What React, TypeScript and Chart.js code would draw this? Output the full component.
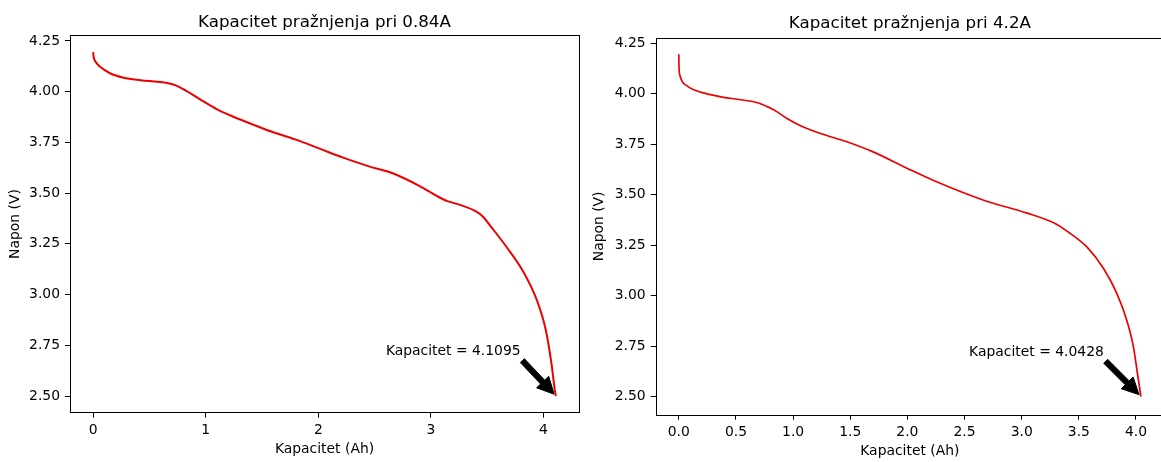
import React, { useEffect, useRef } from 'react';
import { Chart, registerables } from 'chart.js';

Chart.register(...registerables);

const FONT = '"DejaVu Sans", "Liberation Sans", sans-serif';
const TICK_SIZE = 13.9;
const TITLE_SIZE = 16.7;

// ---- Left chart: 0.84 A discharge ----
const title084 = 'Kapacitet pražnjenja pri 0.84A';
const capacity084 = [
  0.0, 0.005, 0.025, 0.062, 0.15, 0.27, 0.42, 0.57, 0.66, 0.74, 0.82, 0.95, 1.1, 1.24, 1.42, 1.6,
  1.8, 2.0, 2.22, 2.45, 2.66, 2.9, 3.05, 3.14, 3.26, 3.4, 3.46, 3.54, 3.67, 3.82, 3.94, 4.02,
  4.07, 4.1, 4.1095,
];
const voltage084 = [
  4.195, 4.17, 4.145, 4.123, 4.091, 4.069, 4.057, 4.049, 4.043, 4.03, 4.006, 3.962, 3.913, 3.878,
  3.838, 3.8, 3.764, 3.722, 3.675, 3.632, 3.598, 3.535, 3.487, 3.462, 3.442, 3.41, 3.385, 3.33,
  3.236, 3.113, 2.974, 2.826, 2.662, 2.53, 2.5,
];
const xTicks084 = [0, 1, 2, 3, 4];
const xTickLabels084 = ['0', '1', '2', '3', '4'];
const annotText084 = 'Kapacitet = 4.1095';
const annotTextPos084 = [2.6, 2.7];
const annotPoint084 = [4.1095, 2.5];

// ---- Right chart: 4.2 A discharge ----
const title42 = 'Kapacitet pražnjenja pri 4.2A';
const capacity42 = [
  0.0, 0.002, 0.01, 0.03, 0.069, 0.12, 0.19, 0.36, 0.54, 0.69, 0.83, 0.95, 1.06, 1.24, 1.47,
  1.7, 2.0, 2.25, 2.68, 3.04, 3.3, 3.4, 3.57, 3.716, 3.833, 3.92, 3.978, 4.013, 4.035, 4.0428,
];
const voltage42 = [
  4.195, 4.13, 4.09, 4.06, 4.04, 4.022, 4.008, 3.986, 3.97, 3.955, 3.92, 3.876, 3.843, 3.803, 3.762,
  3.712, 3.63, 3.565, 3.47, 3.41, 3.355, 3.318, 3.241, 3.134, 3.01, 2.877, 2.745, 2.613, 2.53, 2.5,
];
const xTicks42 = [0, 0.5, 1, 1.5, 2, 2.5, 3, 3.5, 4];
const xTickLabels42 = ['0.0', '0.5', '1.0', '1.5', '2.0', '2.5', '3.0', '3.5', '4.0'];
const annotText42 = 'Kapacitet = 4.0428';
const annotTextPos42 = [2.54, 2.7];
const annotPoint42 = [4.0428, 2.5];

// ---- Shared ----
const yTicks = [2.5, 2.75, 3.0, 3.25, 3.5, 3.75, 4.0, 4.25];
const yTickLabels = ['2.50', '2.75', '3.00', '3.25', '3.50', '3.75', '4.00', '4.25'];
const xAxisTitle = 'Kapacitet (Ah)';
const yAxisTitle = 'Napon (V)';

function drawArrow(ctx: CanvasRenderingContext2D, x0: number, y0: number, x1: number, y1: number) {
  const tailW = 5.6;
  const headW = 16.7;
  const headL = 16.7;
  const dx = x1 - x0;
  const dy = y1 - y0;
  const L = Math.hypot(dx, dy);
  const ux = dx / L;
  const uy = dy / L;
  const nx = -uy;
  const ny = ux;
  const bx = x1 - ux * headL;
  const by = y1 - uy * headL;
  ctx.beginPath();
  ctx.moveTo(x0 + (nx * tailW) / 2, y0 + (ny * tailW) / 2);
  ctx.lineTo(bx + (nx * tailW) / 2, by + (ny * tailW) / 2);
  ctx.lineTo(bx + (nx * headW) / 2, by + (ny * headW) / 2);
  ctx.lineTo(x1, y1);
  ctx.lineTo(bx - (nx * headW) / 2, by - (ny * headW) / 2);
  ctx.lineTo(bx - (nx * tailW) / 2, by - (ny * tailW) / 2);
  ctx.lineTo(x0 - (nx * tailW) / 2, y0 - (ny * tailW) / 2);
  ctx.closePath();
  ctx.fillStyle = '#000';
  ctx.strokeStyle = '#000';
  ctx.lineWidth = 1;
  ctx.fill();
  ctx.stroke();
}

const overlayPlugin = {
  id: 'overlay',
  afterDraw(chart: any, _args: any, opts: any) {
    const { ctx, chartArea: ca, scales } = chart;
    ctx.save();
    // frame (spines)
    ctx.strokeStyle = '#000';
    ctx.lineWidth = 1;
    ctx.strokeRect(Math.round(ca.left) + 0.5, Math.round(ca.top) + 0.5, Math.round(ca.right - ca.left), Math.round(ca.bottom - ca.top));
    // title
    ctx.fillStyle = '#000';
    ctx.font = `${TITLE_SIZE}px ${FONT}`;
    ctx.textAlign = 'center';
    ctx.textBaseline = 'alphabetic';
    ctx.fillText(opts.title, (ca.left + ca.right) / 2, ca.top - opts.titlePad);
    // annotation text
    ctx.font = `${TICK_SIZE}px ${FONT}`;
    ctx.textAlign = 'left';
    const tx = scales.x.getPixelForValue(opts.textPos[0]);
    const ty = scales.y.getPixelForValue(opts.textPos[1]);
    ctx.fillText(opts.text, tx, ty);
    const w = ctx.measureText(opts.text).width;
    const bx0 = tx;
    const bx1 = tx + w;
    const by0 = ty - TICK_SIZE * 0.76;
    const by1 = ty + TICK_SIZE * 0.236;
    const px = scales.x.getPixelForValue(opts.point[0]);
    const py = scales.y.getPixelForValue(opts.point[1]);
    const pick = (cands: number[], t: number) => cands.reduce((a, b) => (Math.abs(b - t) < Math.abs(a - t) ? b : a));
    const sx = pick([bx0, (bx0 + bx1) / 2, bx1], px);
    const sy = pick([by0, (by0 + by1) / 2, by1], py);
    const shrink = 0.05;
    const ax0 = sx + (px - sx) * shrink;
    const ay0 = sy + (py - sy) * shrink;
    const ax1 = px - (px - sx) * shrink;
    const ay1 = py - (py - sy) * shrink;
    drawArrow(ctx, ax0, ay0, ax1, ay1);
    ctx.restore();
  },
};

type ChartSpec = {
  title: string;
  xs: number[];
  ys: number[];
  xTicks: number[];
  xTickLabels: string[];
  text: string;
  textPos: number[];
  point: number[];
  xMin: number;
  xMax: number;
  yMin: number;
  yMax: number;
  yAxisWidth: number;
  xAxisHeight: number;
  padTop: number;
  padRight: number;
  xTitlePad: number;
  yTitlePad: number;
  titlePad: number;
  lineWidth: number;
};

function makeConfig(s: ChartSpec): any {
  const tickFont = { family: FONT, size: TICK_SIZE };
  return {
    type: 'scatter',
    data: {
      datasets: [
        {
          data: s.xs.map((x, i) => ({ x, y: s.ys[i] })),
          showLine: true,
          borderColor: '#ee0000',
          borderWidth: s.lineWidth,
          pointRadius: 0,
          cubicInterpolationMode: 'monotone',
          fill: false,
        },
      ],
    },
    options: {
      animation: false,
      responsive: false,
      maintainAspectRatio: false,
      layout: { padding: { left: 0, top: s.padTop, right: s.padRight, bottom: 0 } },
      plugins: {
        legend: { display: false },
        tooltip: { enabled: false },
        overlay: { title: s.title, text: s.text, textPos: s.textPos, point: s.point, titlePad: s.titlePad },
      },
      scales: {
        x: {
          type: 'linear',
          bounds: 'data',
          min: s.xMin,
          max: s.xMax,
          afterBuildTicks: (scale: any) => {
            scale.ticks = s.xTicks.map((v) => ({ value: v }));
          },
          afterFit: (scale: any) => {
            scale.height = s.xAxisHeight;
          },
          ticks: {
            color: '#000',
            font: tickFont,
            padding: 4,
            maxRotation: 0,
            autoSkip: false,
            callback: (_v: any, i: number) => s.xTickLabels[i],
          },
          grid: { display: true, drawOnChartArea: false, drawTicks: true, tickLength: 5, color: '#000', lineWidth: 1 },
          border: { display: false },
          title: { display: true, text: xAxisTitle, color: '#000', font: tickFont, padding: { top: 0, bottom: s.xTitlePad } },
        },
        y: {
          type: 'linear',
          bounds: 'data',
          min: s.yMin,
          max: s.yMax,
          afterBuildTicks: (scale: any) => {
            scale.ticks = yTicks.map((v) => ({ value: v }));
          },
          afterFit: (scale: any) => {
            scale.width = s.yAxisWidth;
          },
          ticks: {
            color: '#000',
            font: tickFont,
            padding: 5,
            autoSkip: false,
            callback: (_v: any, i: number) => yTickLabels[i],
          },
          grid: { display: true, drawOnChartArea: false, drawTicks: true, tickLength: 5, color: '#000', lineWidth: 1 },
          border: { display: false },
          title: { display: true, text: yAxisTitle, color: '#000', font: tickFont, padding: { top: s.yTitlePad, bottom: 0 } },
        },
      },
    },
    plugins: [overlayPlugin],
  };
}

function ChartBox({ spec, left, width }: { spec: ChartSpec; left: number; width: number }) {
  const ref = useRef<HTMLCanvasElement | null>(null);
  useEffect(() => {
    if (!ref.current) return;
    const chart = new Chart(ref.current, makeConfig(spec));
    return () => chart.destroy();
  }, []);
  return (
    <div style={{ position: 'absolute', left, top: 0, width, height: 462 }}>
      <canvas ref={ref} width={width} height={462} style={{ width, height: 462, display: 'block' }} />
    </div>
  );
}

const leftSpec: ChartSpec = {
  title: title084,
  xs: capacity084,
  ys: voltage084,
  xTicks: xTicks084,
  xTickLabels: xTickLabels084,
  text: annotText084,
  textPos: annotTextPos084,
  point: annotPoint084,
  xMin: -0.2055,
  xMax: 4.315,
  yMin: 2.418,
  yMax: 4.278,
  yAxisWidth: 70,
  xAxisHeight: 49.3,
  padTop: 35.3,
  padRight: 11,
  xTitlePad: 4.7,
  yTitlePad: 6.7,
  titlePad: 8.5,
  lineWidth: 2,
};

const rightSpec: ChartSpec = {
  title: title42,
  xs: capacity42,
  ys: voltage42,
  xTicks: xTicks42,
  xTickLabels: xTickLabels42,
  text: annotText42,
  textPos: annotTextPos42,
  point: annotPoint42,
  xMin: -0.2021,
  xMax: 4.245,
  yMin: 2.41,
  yMax: 4.276,
  yAxisWidth: 65.7,
  xAxisHeight: 47.3,
  padTop: 38,
  padRight: 6,
  xTitlePad: 2.7,
  yTitlePad: 0.7,
  titlePad: 10.3,
  lineWidth: 1.7,
};

export default function App() {
  return (
    <div style={{ position: 'fixed', left: 0, top: 0, width: 1161, height: 462, overflow: 'hidden', background: '#fff' }}>
      <ChartBox spec={leftSpec} left={0} width={590} />
      <ChartBox spec={rightSpec} left={590} width={580} />
    </div>
  );
}
